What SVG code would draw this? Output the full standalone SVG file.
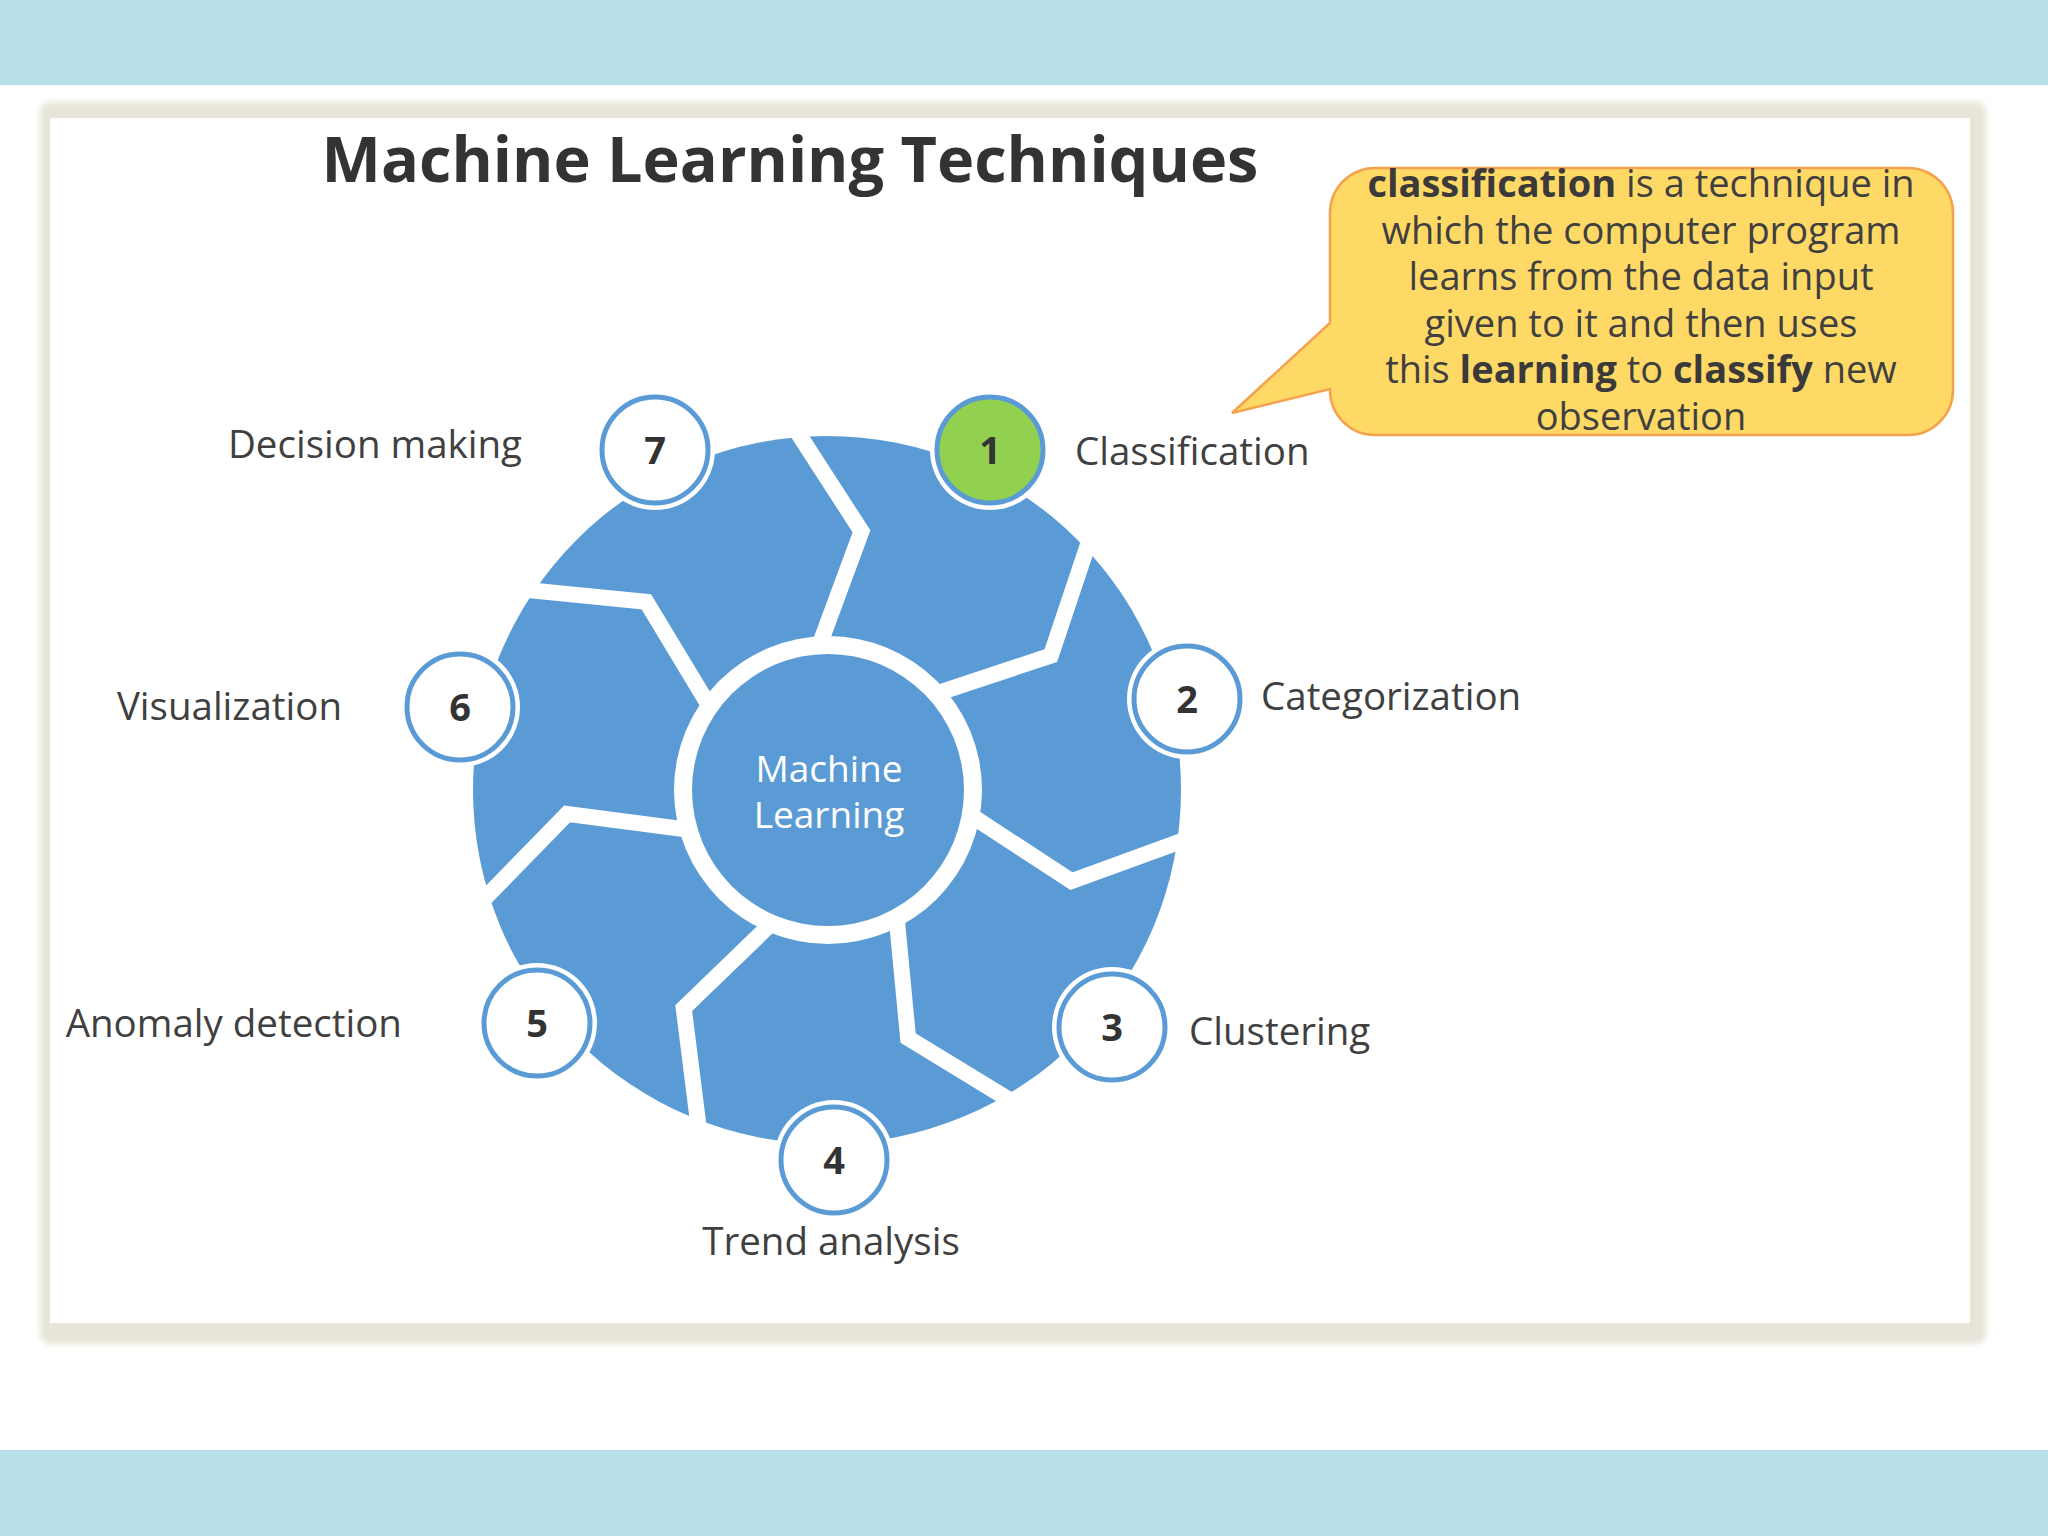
<svg xmlns="http://www.w3.org/2000/svg" width="2048" height="1536" viewBox="0 0 2048 1536">
  <defs>
    <filter id="soft" x="-5%" y="-5%" width="110%" height="110%">
      <feGaussianBlur stdDeviation="3"/>
    </filter>
    <style>
      .band { fill: #B8DFE7; }
      .title { font-family: "Open Sans", "Liberation Sans", sans-serif; font-weight: bold; font-size: 63px; fill: #333333; text-anchor: middle; }
      .lbl { font-family: "Open Sans", "Liberation Sans", sans-serif; font-size: 38.5px; fill: #404040; }
      .num { font-family: "Open Sans", "Liberation Sans", sans-serif; font-weight: bold; font-size: 38px; fill: #333333; text-anchor: middle; }
      .halo { fill: #FFFFFF; }
      .ring { fill: #FFFFFF; stroke: #5B9BD5; stroke-width: 5; }
      .ring1 { fill: #92D050; stroke: #5B9BD5; stroke-width: 5; }
      .gap { fill: none; stroke: #FFFFFF; stroke-width: 16; stroke-linejoin: miter; stroke-miterlimit: 10; }
      .center { font-family: "Open Sans", "Liberation Sans", sans-serif; font-size: 37px; fill: #FFFFFF; text-anchor: middle; }
      .call { font-family: "Open Sans", "Liberation Sans", sans-serif; font-size: 38px; fill: #404040; text-anchor: middle; }
      .b { font-weight: bold; fill: #3A3A3A; }
    </style>
  </defs>

  <rect x="0" y="0" width="2048" height="1536" fill="#FFFFFF"/>
  <rect class="band" x="0" y="0" width="2048" height="85"/>
  <rect class="band" x="0" y="1450" width="2048" height="86"/>

  <rect x="40" y="102" width="1946" height="1242" rx="10" fill="#E6E5D8" filter="url(#soft)"/>
  <rect x="50" y="118" width="1920" height="1205" fill="#FFFFFF"/>

  <text class="title" x="790" y="182">Machine Learning Techniques</text>

  <g id="wheel">
    <circle cx="827" cy="790" r="354" fill="#5B9BD5"/>
    <g id="connectors">
      <polyline class="gap" points="819.4,645.2 861.5,531.3 787.5,416.9"/>
      <polyline class="gap" points="935.5,693.8 1050.8,655.7 1094.0,526.6"/>
      <polyline class="gap" points="969.9,814.8 1071.5,881.2 1199.5,834.5"/>
      <polyline class="gap" points="896.6,917.2 908.1,1038.1 1024.3,1109.0"/>
      <polyline class="gap" points="771.0,923.8 683.7,1008.1 700.7,1143.2"/>
      <polyline class="gap" points="687.5,829.6 567.1,813.9 472.0,911.4"/>
      <polyline class="gap" points="709.0,705.7 646.3,601.7 510.7,588.4"/>
    </g>
  </g>

  <g id="center">
    <circle cx="828" cy="790" r="154" fill="#FFFFFF"/>
    <circle cx="828" cy="790" r="136" fill="#5B9BD5"/>
    <text class="center" x="829" y="782">Machine</text>
    <text class="center" x="829" y="828">Learning</text>
  </g>

  <g id="node1">
    <circle class="halo" cx="990" cy="450" r="60"/>
    <circle class="ring1" cx="990" cy="450" r="53"/>
    <text class="num" x="990" y="464">1</text>
    <text class="lbl" x="1075" y="465">Classification</text>
  </g>
  <g id="node2">
    <circle class="halo" cx="1187" cy="699" r="60"/>
    <circle class="ring" cx="1187" cy="699" r="53"/>
    <text class="num" x="1187" y="713">2</text>
    <text class="lbl" x="1261" y="710">Categorization</text>
  </g>
  <g id="node3">
    <circle class="halo" cx="1112" cy="1027" r="60"/>
    <circle class="ring" cx="1112" cy="1027" r="53"/>
    <text class="num" x="1112" y="1041">3</text>
    <text class="lbl" x="1189" y="1045">Clustering</text>
  </g>
  <g id="node4">
    <circle class="halo" cx="834" cy="1160" r="60"/>
    <circle class="ring" cx="834" cy="1160" r="53"/>
    <text class="num" x="834" y="1174">4</text>
    <text class="lbl" x="831" y="1255" text-anchor="middle">Trend analysis</text>
  </g>
  <g id="node5">
    <circle class="halo" cx="537" cy="1023" r="60"/>
    <circle class="ring" cx="537" cy="1023" r="53"/>
    <text class="num" x="537" y="1037">5</text>
    <text class="lbl" x="402" y="1037" text-anchor="end">Anomaly detection</text>
  </g>
  <g id="node6">
    <circle class="halo" cx="460" cy="707" r="60"/>
    <circle class="ring" cx="460" cy="707" r="53"/>
    <text class="num" x="460" y="721">6</text>
    <text class="lbl" x="342" y="720" text-anchor="end">Visualization</text>
  </g>
  <g id="node7">
    <circle class="halo" cx="655" cy="450" r="60"/>
    <circle class="ring" cx="655" cy="450" r="53"/>
    <text class="num" x="655" y="464">7</text>
    <text class="lbl" x="522" y="458" text-anchor="end">Decision making</text>
  </g>

  <g id="callout">
    <path d="M1375,168 H1908 A45,45 0 0 1 1953,213 V390 A45,45 0 0 1 1908,435 H1375 A45,45 0 0 1 1330,390 V389 L1232,413 L1330,323 V213 A45,45 0 0 1 1375,168 Z" fill="#FFD966" stroke="#F4A24E" stroke-width="2.5" stroke-linejoin="miter"/>
    <text class="call" x="1641" y="197"><tspan class="b">classification</tspan> is a technique in</text>
    <text class="call" x="1641" y="244">which the computer program</text>
    <text class="call" x="1641" y="290">learns from the data input</text>
    <text class="call" x="1641" y="337">given to it and then uses</text>
    <text class="call" x="1641" y="383">this <tspan class="b">learning</tspan> to <tspan class="b">classify</tspan> new</text>
    <text class="call" x="1641" y="430">observation</text>
  </g>
</svg>
